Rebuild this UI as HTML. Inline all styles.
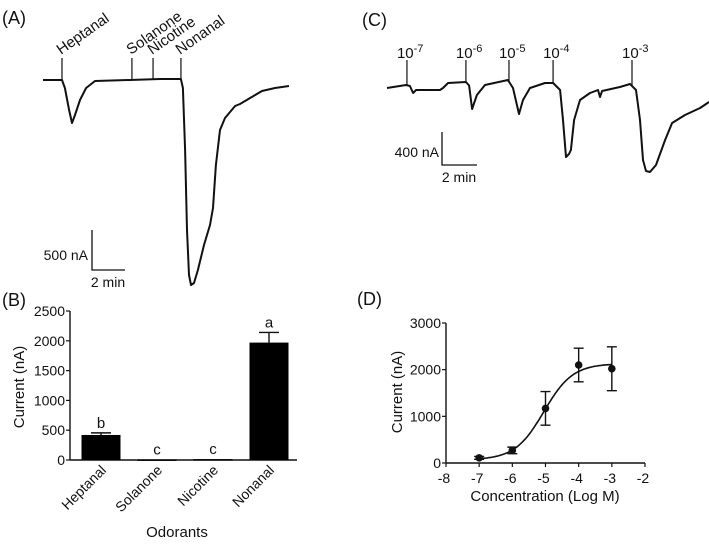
<!DOCTYPE html>
<html><head><meta charset="utf-8"><style>
body{margin:0;background:#fff}
svg text{font-family:"Liberation Sans",Arial,sans-serif;fill:#111}
</style></head><body>
<svg id="fig" width="709" height="546" viewBox="0 0 709 546" xmlns="http://www.w3.org/2000/svg">
<g id="pA"></g>
<g id="pB"></g>
<g id="pC"></g>
<g id="pD"></g>
</svg>
<script>
// Panel A trace (minutes, nA)
const aTime=[0,1.15,1.33,1.58,1.76,1.94,2.24,2.61,3.15,5.27,7.09,8.36,8.48,8.61,8.73,8.85,8.97,9.15,9.39,9.76,10.12,10.3,10.48,10.73,11.03,11.64,11.94,12.55,13.27,14.06,14.91];
const aCurr=[0,0,-100,-375,-538,-438,-250,-100,-13,0,12,12,-100,-875,-1875,-2438,-2563,-2538,-2375,-2063,-1813,-1600,-1063,-625,-475,-325,-300,-225,-138,-100,-75];
const aStimNames=["Heptanal","Solanone","Nicotine","Nonanal"];
const aStimTimes=[1.15,5.39,6.67,8.36];
// Panel B
const bCats=["Heptanal","Solanone","Nicotine","Nonanal"];
const bVals=[420,10,15,1970];
const bErr=[35,0,0,170];
const bLetters=["b","c","c","a"];
const bTicks=[0,500,1000,1500,2000,2500];
// Panel C trace
const cTime=[0,1.09,1.31,1.49,1.66,3.03,3.2,3.49,4.51,4.69,4.86,5.14,5.6,6.91,7.2,7.54,7.77,8.17,9.03,9.49,9.89,10.06,10.23,10.4,10.51,10.69,11.03,11.6,12.06,12.17,12.29,13.31,13.89,14.23,14.46,14.63,14.8,15.03,15.37,15.89,16.29,17.03,17.89,18.4];
const cCurr=[0,36,24,-61,-24,-24,0,61,73,30,-255,-85,36,97,0,-315,-145,0,61,61,-24,-388,-836,-800,-752,-388,-145,-61,-24,-109,-36,12,48,-24,-388,-873,-1006,-1018,-933,-630,-424,-327,-242,-170];
const cStimExp=["-7","-6","-5","-4","-3"];
const cStimTimes=[1.14,4.51,6.97,9.49,14.0];
// Panel D
const dX=[-7,-6,-5,-4,-3];
const dY=[110,270,1170,2100,2020];
const dErr=[30,70,360,360,470];
const dXTicks=[-8,-7,-6,-5,-4,-3,-2];
const dYTicks=[0,1000,2000,3000];
const dFit={bottom:70,top:2130,logEC50:-5.05,hill:1.0};

const NS="http://www.w3.org/2000/svg";
function mk(parent,tag,attrs,text){const e=document.createElementNS(NS,tag);for(const k in attrs)e.setAttribute(k,attrs[k]);if(text!==undefined)e.textContent=text;parent.appendChild(e);return e;}
function lbl(parent,x,y,t,size,anchor,name){const e=mk(parent,'text',{x:x,y:y,'font-size':size,'text-anchor':anchor||'start'},t);


return e;}
const gA=document.getElementById('pA'),gB=document.getElementById('pB'),gC=document.getElementById('pC'),gD=document.getElementById('pD');

// ---- Panel A
lbl(gA,2,24,"(A)",18,'start','panel-a-label');
const ax=t=>43+t*16.5, ay=v=>80-v/12.5;
let p=mk(gA,'path',{d:aTime.map((t,i)=>(i?'L':'M')+ax(t).toFixed(1)+' '+ay(aCurr[i]).toFixed(1)).join(' '),fill:'none',stroke:'#111','stroke-width':2,'stroke-linejoin':'round'});


aStimTimes.forEach((t,i)=>{const x=ax(t);
 const l=mk(gA,'line',{x1:x,y1:58,x2:x,y2:80,stroke:'#111','stroke-width':1.2});
 
 
 const tx=lbl(gA,0,0,aStimNames[i],15,'start','stimulus-label-'+aStimNames[i].toLowerCase());
 tx.setAttribute('transform','translate('+(x-1)+',55) rotate(-35)');});
mk(gA,'path',{d:'M92 230 V270 H125',fill:'none',stroke:'#111','stroke-width':1.3});
lbl(gA,88,260,"500 nA",14,'end','scale-bar-a-current');
lbl(gA,108,287,"2 min",14,'middle','scale-bar-a-time');

// ---- Panel B
lbl(gB,2,306,"(B)",18,'start','panel-b-label');
const by=v=>460-v*149/2500;
const bx0=70,bx1=297, bCenters=i=>101+i*56, bw=39;
mk(gB,'line',{x1:bx0,y1:by(2500),x2:bx0,y2:460,stroke:'#111','stroke-width':1.4});
mk(gB,'line',{x1:bx0,y1:460,x2:bx1,y2:460,stroke:'#111','stroke-width':1.4});
bTicks.forEach(v=>{mk(gB,'line',{x1:bx0-4,y1:by(v),x2:bx0,y2:by(v),stroke:'#111','stroke-width':1.2});
 lbl(gB,bx0-5,by(v)+5,String(v),14,'end','b-y-tick-'+v);});
const yt=lbl(gB,0,0,"Current (nA)",15,'middle','b-y-axis-title');yt.setAttribute('transform','translate(24,387) rotate(-90)');
bCats.forEach((c,i)=>{const cx=bCenters(i);
 const r=mk(gB,'rect',{x:cx-bw/2,y:by(bVals[i]),width:bw,height:Math.max(460-by(bVals[i]),1.5),fill:'#000'});
 
 
 let top=by(bVals[i]);
 if(bErr[i]>0){const ey=by(bVals[i]+bErr[i]);mk(gB,'path',{d:`M${cx} ${top} V${ey} M${cx-10} ${ey} H${cx+10}`,stroke:'#111','stroke-width':1.4,fill:'none'});top=ey;}
 lbl(gB,cx,top-5,bLetters[i],15,'middle','significance-letter-'+c.toLowerCase());
 const t=lbl(gB,0,0,c,14,'end','b-x-tick-'+c.toLowerCase());t.setAttribute('transform',`translate(${cx+6},${471}) rotate(-45)`);});
lbl(gB,177,537,"Odorants",15,'middle','b-x-axis-title');

// ---- Panel C
lbl(gC,362,26,"(C)",18,'start','panel-c-label');
const cx_=t=>387+t*17.5, cy=v=>88-v/12.12;
p=mk(gC,'path',{d:cTime.map((t,i)=>(i?'L':'M')+cx_(t).toFixed(1)+' '+cy(cCurr[i]).toFixed(1)).join(' '),fill:'none',stroke:'#111','stroke-width':2,'stroke-linejoin':'round'});


cStimTimes.forEach((t,i)=>{const x=cx_(t);
 let yb=cy(0);for(let k=0;k<cTime.length-1;k++){if(cTime[k]<=t&&cTime[k+1]>=t){yb=cy(cCurr[k]+(cCurr[k+1]-cCurr[k])*(t-cTime[k])/((cTime[k+1]-cTime[k])||1));break;}}
 const l=mk(gC,'line',{x1:x,y1:60,x2:x,y2:yb,stroke:'#111','stroke-width':1.2});
 
 
 const t2=mk(gC,'text',{x:x-10,y:58,'font-size':15});
 
 
 t2.appendChild(document.createTextNode('10'));
 mk(t2,'tspan',{dy:-6,'font-size':11},cStimExp[i]);});
mk(gC,'path',{d:'M442 132 V165 H477',fill:'none',stroke:'#111','stroke-width':1.3});
lbl(gC,439,157,"400 nA",14,'end','scale-bar-c-current');
lbl(gC,459,182,"2 min",14,'middle','scale-bar-c-time');

// ---- Panel D
lbl(gD,357,305,"(D)",18,'start','panel-d-label');
const dxs=v=>446+(v+8)*(645-446)/6, dys=v=>463-v*140/3000;
mk(gD,'line',{x1:446,y1:dys(3000),x2:446,y2:463,stroke:'#111','stroke-width':1.4});
mk(gD,'line',{x1:446,y1:463,x2:645,y2:463,stroke:'#111','stroke-width':1.4});
dYTicks.forEach(v=>{mk(gD,'line',{x1:442,y1:dys(v),x2:446,y2:dys(v),stroke:'#111','stroke-width':1.2});
 lbl(gD,441,dys(v)+5,String(v),14,'end','d-y-tick-'+v);});
dXTicks.forEach(v=>{mk(gD,'line',{x1:dxs(v),y1:463,x2:dxs(v),y2:467,stroke:'#111','stroke-width':1.2});
 lbl(gD,dxs(v)-2,483,String(v),14,'middle','d-x-tick-'+v);});
const dyt=lbl(gD,0,0,"Current (nA)",15,'middle','d-y-axis-title');dyt.setAttribute('transform','translate(402,392) rotate(-90)');
lbl(gD,545,501,"Concentration (Log M)",15,'middle','d-x-axis-title');
let d='';for(let x=-7;x<=-3.0001+0.05;x+=0.05){const y=dFit.bottom+(dFit.top-dFit.bottom)/(1+Math.pow(10,(dFit.logEC50-x)*dFit.hill));d+=(d?'L':'M')+dxs(x).toFixed(1)+' '+dys(y).toFixed(1)+' ';}
p=mk(gD,'path',{d:d,fill:'none',stroke:'#111','stroke-width':1.6});


dX.forEach((x,i)=>{const px=dxs(x),py=dys(dY[i]),e1=dys(dY[i]+dErr[i]),e2=dys(dY[i]-dErr[i]);
 mk(gD,'path',{d:`M${px} ${e1} V${e2} M${px-5} ${e1} H${px+5} M${px-5} ${e2} H${px+5}`,stroke:'#111','stroke-width':1.4,fill:'none'});
 const c=mk(gD,'circle',{cx:px,cy:py,r:3.8,fill:'#111'});
 
 });
</script>
</body></html>
